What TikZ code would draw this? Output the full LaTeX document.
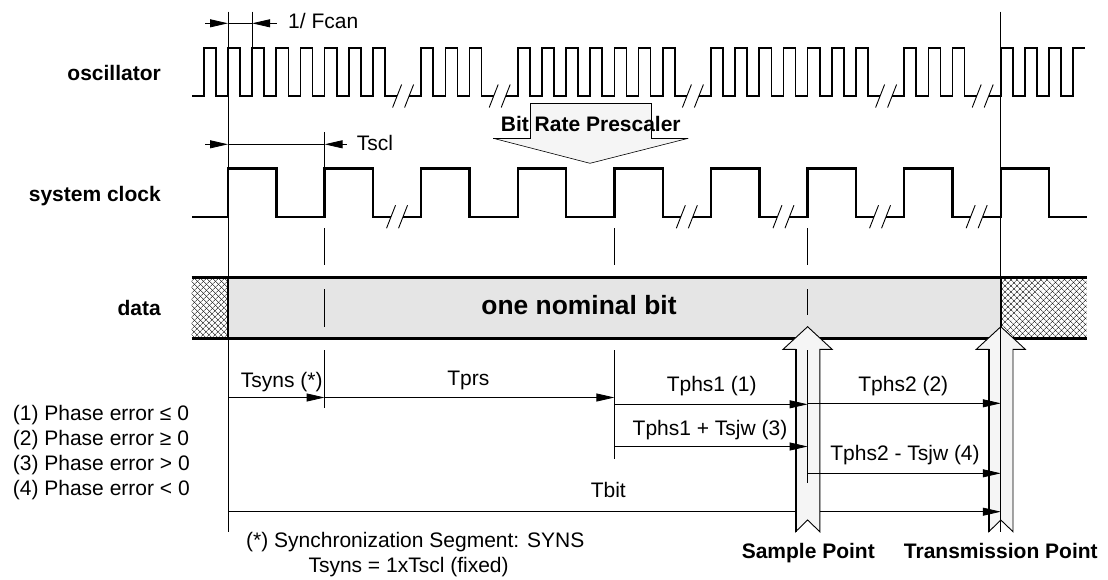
\documentclass[tikz,border=0pt]{standalone}
\usepackage{fontspec}
\setmainfont{Liberation Sans}
\usetikzlibrary{arrows.meta,patterns.meta}
\newcommand\oscgrp[4]{\draw[osc] (#1,96) \foreach \j in {#2,...,#3}{ -- ({228+24.15*\j},96) -- ({228+24.15*\j},48) -- ({240.075+24.15*\j},48) -- ({240.075+24.15*\j},96)} -- (#4,96);}
\newcommand\clkgrp[4]{\draw[clk] (#1,216.7) \foreach \k in {#2,...,#3}{ -- ({228+96.6*\k},216.7) -- ({228+96.6*\k},168.3) -- ({276.3+96.6*\k},168.3) -- ({276.3+96.6*\k},216.7)} -- (#4,216.7);}
\newcommand\brkmark[2]{\draw[brk] ({#1-10.5},{#2+11.5}) -- ({#1-1.5},{#2-11.5}) ({#1+1.5},{#2+11.5}) -- ({#1+10.5},{#2-11.5});}
\begin{document}
\begin{tikzpicture}[x=1pt,y=-1pt,
  txt/.style={font=\fontsize{21}{25}\selectfont, inner sep=0pt},
  btxt/.style={font=\fontsize{21}{25}\selectfont\bfseries, inner sep=0pt},
  osc/.style={line width=1.7pt},
  clk/.style={line width=2.4pt},
  guide/.style={line width=0.8pt},
  brk/.style={line width=0.9pt},
  dim/.style={line width=0.8pt,-{Triangle[length=18pt,width=8pt]}},
  bigarrow/.style={fill=black!4,draw=black,line width=0.9pt},
  hatch1/.style={pattern={Lines[angle=45,distance=4pt,line width=0.5pt]}},
  hatch2/.style={pattern={Lines[angle=-45,distance=4pt,line width=0.5pt]}},
]
\useasboundingbox (0,0) rectangle (1108,579);

% key positions
\coordinate (s0) at (228,0);
\coordinate (s1) at (324.6,0);
\coordinate (s4) at (614.4,0);
\coordinate (s6) at (807.6,0);
\coordinate (s8) at (1000.8,0);

% ---------- data row ----------
\fill[black!10] (228,277.3) rectangle (1000.8,338.3);
\fill[hatch1] (191.7,277.3) rectangle (228,338.3);
\fill[hatch2] (191.7,277.3) rectangle (228,338.3);
\fill[hatch1] (1000.8,277.3) rectangle (1086.7,338.3);
\fill[hatch2] (1000.8,277.3) rectangle (1086.7,338.3);
\node[font=\fontsize{26.4}{30}\selectfont\bfseries, inner sep=0pt, anchor=base] (bit) at (579,314.5) {one nominal bit};

% ---------- dashed guide lines ----------
\draw[guide] (324.6,132) -- (324.6,168.3);
\draw[guide] (324.6,228) -- (324.6,265) (324.6,289) -- (324.6,327) (324.6,350) -- (324.6,407.7);
\draw[guide] (614.4,228) -- (614.4,265) (614.4,350) -- (614.4,459.3);
\draw[guide] (807.6,228) -- (807.6,265) (807.6,289) -- (807.6,315);

% data row borders
\draw[line width=2.4pt] (191.7,277.3) -- (1086.7,277.3) (191.7,338.3) -- (1086.7,338.3);
\draw[line width=2.4pt] (228,277.3) -- (228,338.3) (1000.8,277.3) -- (1000.8,338.3);

% long guide lines
\draw[guide] (228,11.7) -- (228,531.7);
\draw[guide] (252.15,11.7) -- (252.15,48);

% ---------- oscillator ----------
\oscgrp{192}{-1}{6}{397.1}
\oscgrp{409.1}{8}{10}{493.7}
\oscgrp{505.7}{12}{18}{686.9}
\oscgrp{698.9}{20}{26}{880.1}
\oscgrp{892.1}{28}{30}{976.7}
\draw[osc] (988.7,96) \foreach \j in {32,...,34}{ -- ({228+24.15*\j},96) -- ({228+24.15*\j},48) -- ({240.075+24.15*\j},48) -- ({240.075+24.15*\j},96)} -- (1073.25,96) -- (1073.25,48) -- (1085,48);
\brkmark{403.1}{96}
\brkmark{499.7}{96}
\brkmark{692.9}{96}
\brkmark{886.1}{96}
\brkmark{982.7}{96}

% ---------- system clock ----------
\clkgrp{192}{0}{1}{391.05}
\clkgrp{403.05}{2}{4}{680.85}
\clkgrp{692.85}{5}{5}{777.45}
\clkgrp{789.45}{6}{6}{874.05}
\clkgrp{886.05}{7}{7}{970.65}
\clkgrp{982.65}{8}{8}{1087}
\brkmark{397.05}{216.7}
\brkmark{686.85}{216.7}
\brkmark{783.45}{216.7}
\brkmark{880.05}{216.7}
\brkmark{976.65}{216.7}

% ---------- labels ----------
\node[btxt, anchor=base east] (losc) at (161,80) {oscillator};
\node[btxt, anchor=base east] (lclk) at (161,201) {system clock};
\node[btxt, anchor=base east] (ldata) at (161,315) {data};

% ---------- Bit Rate Prescaler ----------
\fill[black!4] (530,103.3) -- (651.7,103.3) -- (651.7,138.3) -- (688.3,138.3) -- (590,163.3) -- (493.3,138.3) -- (530,138.3) -- cycle;
\node[btxt, anchor=base] (brp) at (590.8,131) {Bit Rate Prescaler};
\draw[line width=0.9pt] (493.3,138.3) -- (530,138.3) -- (530,103.3) -- (651.7,103.3) -- (651.7,138.3) -- (688.3,138.3);
\draw[line width=0.6pt] (493.3,138.3) -- (590,163.3) -- (688.3,138.3);

% ---------- dimensions ----------
\coordinate (fa) at (228,23.3);
\coordinate (fb) at (252.15,23.3);
\draw[dim] (205,23.3) -- (fa);
\draw[dim] (276.7,23.3) -- (fb);
\draw[guide] (fa) -- (fb);
\node[txt, anchor=base west] (fcan) at (288,28.5) {1/ Fcan};

\coordinate (ta) at (228,144.3);
\coordinate (tb) at (324.6,144.3);
\draw[dim] (205,144.3) -- (ta);
\draw[dim] (346.7,144.3) -- (tb);
\draw[guide] (ta) -- (tb);
\node[txt, anchor=base west] (tscl) at (356.7,150) {Tscl};

% ---------- transmission arrow ----------
\draw[bigarrow] (1000.8,326.7) -- (1025.3,349.3) -- (1013,349.3) -- (1013,531.7) -- (1000.8,520) -- (988.8,531.7) -- (988.8,349.3) -- (976.3,349.3) -- cycle;
\draw[line width=1.8pt] (988.8,349.3) -- (988.8,531.7);
\draw[guide] (1000.8,11.7) -- (1000.8,531.7);

% Tbit (behind sample arrow)
\coordinate (tbs) at (228,511.7);
\coordinate (tbe) at (1000.8,511.7);
\draw[dim] (tbs) -- (tbe);
\node[txt, anchor=base] (tbit) at (608.3,497) {Tbit};

% ---------- sample arrow ----------
\draw[bigarrow] (807.6,326.7) -- (832.1,349.3) -- (819.8,349.3) -- (819.8,531.7) -- (807.6,520) -- (795.6,531.7) -- (795.6,349.3) -- (783.1,349.3) -- cycle;
\draw[line width=1.8pt] (795.6,349.3) -- (795.6,531.7);
\draw[guide] (807.6,350) -- (807.6,483.3);

% ---------- segment arrows ----------
\coordinate (a0) at (228,397.5);
\coordinate (a1) at (324.6,397.5);
\coordinate (a4) at (614.4,397.5);
\draw[dim] (a0) -- (a1);
\draw[dim] (a1) -- (a4);
\node[txt, anchor=base] (tsyns) at (281.7,387.5) {Tsyns (*)};
\node[txt, anchor=base] (tprs) at (468.3,385) {Tprs};

\coordinate (p1a) at (614.4,404.3);
\coordinate (p1b) at (807.6,404.3);
\draw[dim] (p1a) -- (p1b);
\node[txt, anchor=base] (tphs1) at (711.7,391) {Tphs1 (1)};

\coordinate (p2a) at (807.6,403.3);
\coordinate (p2b) at (1000.8,403.3);
\draw[dim] (p2a) -- (p2b);
\node[txt, anchor=base] (tphs2) at (903.3,391) {Tphs2 (2)};

\coordinate (p3a) at (614.4,446.5);
\coordinate (p3b) at (807.6,446.5);
\draw[dim] (p3a) -- (p3b);
\node[txt, anchor=base] (tphs3) at (710,435) {Tphs1 + Tsjw (3)};

\coordinate (p4a) at (807.6,473.3);
\coordinate (p4b) at (1000.8,473.3);
\draw[dim] (p4a) -- (p4b);
\node[txt, anchor=base] (tphs4) at (905,460) {Tphs2 - Tsjw (4)};

% ---------- point labels ----------
\node[btxt, anchor=base] (sp) at (808.3,558) {Sample Point};
\node[btxt, anchor=base] (tp) at (1000.8,558) {Transmission Point};

% ---------- legend ----------
\node[txt, anchor=base west] (e1) at (12.7,420) {(1) Phase error ≤ 0};
\node[txt, anchor=base west] (e2) at (12.7,445) {(2) Phase error ≥ 0};
\node[txt, anchor=base west] (e3) at (12.7,470.5) {(3) Phase error > 0};
\node[txt, anchor=base west] (e4) at (12.7,495) {(4) Phase error < 0};

% ---------- footnote ----------
\node[txt, anchor=base west] (fn1) at (246,547.7) {(*) Synchronization Segment: SYNS};
\node[txt, anchor=base west] (fn2) at (308.3,572) {Tsyns = 1xTscl (fixed)};
\end{tikzpicture}
\end{document}
